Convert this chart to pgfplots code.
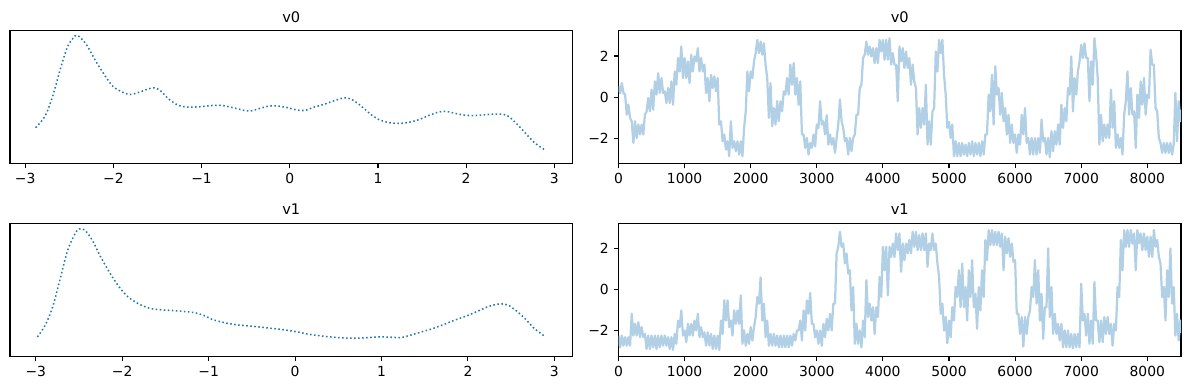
\documentclass[border=0pt]{standalone}
\usepackage{fontspec}
\setmainfont{DejaVu Sans}
\usepackage{pgfplots}
\pgfplotsset{compat=1.18}
\definecolor{c0}{HTML}{1F77B4}
\definecolor{c0a}{RGB}{177,207,229}
\pgfplotsset{
  base/.style={
    scale only axis, width=405pt, height=95.76pt, anchor=south west,
    axis line style={line width=0.8pt},
    tick style={line width=0.8pt, black},
    tick align=outside, major tick length=3.5pt,
    xtick pos=bottom, ytick pos=left,
    tick label style={font=\fontsize{10}{12}\selectfont},
    clip mode=individual,
  },
  kde/.style={c0, line width=1.1pt, dash pattern=on 1.1pt off 1.8pt, smooth},
  trc/.style={c0a, line width=1.6pt, line join=round},
  lx/.style={xtick={-3,-2,-1,0,1,2,3}, xticklabels={−3,−2,−1,0,1,2,3}, ytick=\empty},
  rx/.style={xmin=0, xmax=8510, xtick={0,1000,2000,3000,4000,5000,6000,7000,8000},
     xticklabels={0,1000,2000,3000,4000,5000,6000,7000,8000},
     ytick={-2,0,2}, yticklabels={−2,0,2}},
}
\newcommand{\ttl}[1]{\node[anchor=base, yshift=6pt, inner sep=0pt, font=\fontsize{10.5}{12}\selectfont] at (rel axis cs:0.5,1) {#1};}
\begin{document}
\begin{tikzpicture}
\path[use as bounding box] (0,0) rectangle (856.08pt,280.8pt);
% top-left KDE v0
\begin{axis}[base, lx, at={(7.2pt,163.08pt)}, xmin=-3.172, xmax=3.206, ymin=0, ymax=401]
\addplot[kde] coordinates {
(-2.881,108)(-2.774,143)(-2.688,203)(-2.603,283)(-2.518,353)(-2.432,385)(-2.390,383)(-2.304,358)(-2.198,308)(-2.091,263)
(-2.006,233)(-1.920,218)(-1.814,208)(-1.707,215)(-1.600,225)(-1.536,228)(-1.472,221)(-1.366,193)(-1.259,175)(-1.152,170)
(-1.024,171)(-0.875,175)(-0.768,175)(-0.640,168)(-0.533,161)(-0.448,158)(-0.341,166)(-0.235,173)(-0.128,173)(-0.021,168)
(0.085,161)(0.171,160)(0.277,170)(0.384,178)(0.512,190)(0.619,198)(0.704,193)(0.811,173)(0.918,148)(1.024,131)
(1.152,122)(1.259,121)(1.366,125)(1.472,133)(1.579,145)(1.686,155)(1.771,157)(1.878,151)(2.006,145)(2.134,145)
(2.262,148)(2.390,149)(2.475,143)(2.561,123)(2.667,93)(2.774,63)(2.893,41)};
\ttl{v0}
\end{axis}
% bottom-left KDE v1
\begin{axis}[base, lx, at={(7.2pt,24.26pt)}, xmin=-3.298, xmax=3.21, ymin=0, ymax=398]
\addplot[kde] coordinates {
(-2.980,58)(-2.891,93)(-2.804,148)(-2.717,233)(-2.630,318)(-2.543,368)(-2.499,381)(-2.434,378)(-2.347,348)(-2.260,303)
(-2.151,253)(-2.042,210)(-1.933,178)(-1.803,156)(-1.672,143)(-1.541,139)(-1.411,137)(-1.280,134)(-1.171,131)(-1.062,123)
(-0.954,110)(-0.823,101)(-0.671,94)(-0.496,90)(-0.322,85)(-0.148,80)(0.026,73)(0.157,66)(0.331,60)(0.505,56)
(0.679,54)(0.853,56)(0.984,58)(1.115,57)(1.223,56)(1.332,63)(1.463,73)(1.594,83)(1.746,98)(1.877,111)
(2.007,123)(2.138,138)(2.247,150)(2.377,157)(2.464,153)(2.551,138)(2.660,113)(2.769,83)(2.900,58)};
\ttl{v1}
\end{axis}
% top-right trace v0
\begin{axis}[base, rx, at={(445.32pt,163.08pt)}, ymin=-3.205, ymax=3.235]
\addplot[trc] coordinates {
(0,0.55)(25,0.20)(50,0.69)(75,0.21)(100,0.13)(125,-0.84)(150,-0.36)(175,-1.00)(200,-1.16)(225,-2.21)
(250,-1.16)(275,-1.97)(300,-1.32)(325,-1.80)(350,-1.32)(375,-1.80)(400,-0.84)(425,-0.68)(450,-0.03)(475,-0.68)
(500,0.37)(525,-0.60)(550,0.77)(575,0.13)(600,1.17)(625,0.21)(650,0.93)(675,0.21)(700,0.29)(725,-0.28)
(750,0.45)(775,-0.28)(800,0.77)(825,-0.36)(850,1.25)(875,0.61)(900,1.90)(925,1.25)(950,2.46)(975,0.93)
(1000,1.90)(1025,0.93)(1050,1.74)(1075,0.69)(1100,2.06)(1125,1.25)(1150,1.98)(1175,1.74)(1200,2.38)(1225,1.25)
(1250,1.90)(1275,1.25)(1300,1.58)(1325,0.21)(1350,0.93)(1375,-0.19)(1400,1.09)(1425,0.45)(1450,1.01)(1475,0.29)
(1500,0.93)(1525,-1.32)(1550,-1.16)(1575,-2.13)(1600,-1.80)(1625,-2.53)(1650,-2.13)(1675,-2.85)(1700,-1.16)(1725,-2.45)
(1750,-2.13)(1775,-2.61)(1800,-2.13)(1825,-2.77)(1850,-2.13)(1875,-2.85)(1900,-1.48)(1925,-0.68)(1950,1.25)(1975,0.29)
(2000,1.25)(2025,0.93)(2050,1.74)(2075,2.14)(2100,2.78)(2125,2.14)(2150,2.70)(2175,2.06)(2200,2.62)(2225,1.58)
(2250,0.93)(2275,-1.00)(2300,0.69)(2325,-1.40)(2350,-0.52)(2375,-1.32)(2400,-0.19)(2425,-1.16)(2450,-0.19)(2475,-0.68)
(2500,0.29)(2525,0.13)(2550,0.93)(2575,0.13)(2600,1.58)(2625,0.61)(2650,1.66)(2675,0.13)(2700,0.93)(2725,-0.36)
(2750,0.77)(2775,-1.80)(2800,-1.80)(2825,-2.45)(2850,-1.97)(2875,-2.77)(2900,-2.21)(2925,-2.45)(2950,-1.80)(2975,-2.37)
(3000,-1.32)(3025,-1.48)(3050,-0.19)(3075,-1.32)(3100,-1.16)(3125,-1.80)(3150,-0.87)(3175,-2.29)(3200,-1.80)(3225,-2.29)
(3250,-1.97)(3275,-2.69)(3300,-1.97)(3325,-1.32)(3350,-0.11)(3375,-1.16)(3400,-1.48)(3425,-2.13)(3450,-1.97)(3475,-2.77)
(3500,-1.97)(3525,-2.61)(3550,-1.97)(3575,-1.80)(3600,-0.84)(3625,-0.84)(3650,0.45)(3675,0.61)(3700,1.90)(3725,2.06)
(3750,2.70)(3775,2.06)(3800,2.46)(3825,1.98)(3850,2.38)(3875,1.66)(3900,2.38)(3925,1.66)(3950,2.78)(3975,2.22)
(4000,2.78)(4025,1.82)(4050,2.78)(4075,1.82)(4100,2.86)(4125,1.58)(4150,2.14)(4175,1.58)(4200,1.58)(4225,-0.19)
(4250,2.46)(4275,1.74)(4300,2.38)(4325,1.42)(4350,2.22)(4375,1.42)(4400,1.90)(4425,0.61)(4450,1.58)(4475,0.77)
(4500,0.45)(4525,-1.80)(4550,-0.52)(4575,-1.48)(4600,-0.52)(4625,-1.32)(4650,0.61)(4675,-2.29)(4700,-1.16)(4725,-2.29)
(4750,-0.68)(4775,-0.52)(4800,2.22)(4825,1.25)(4850,2.78)(4875,2.14)(4900,2.78)(4925,1.09)(4950,0.13)(4975,-1.48)
(5000,-1.19)(5025,-1.97)(5050,-1.32)(5075,-2.85)(5100,-2.13)(5125,-2.85)(5150,-2.21)(5175,-2.85)(5200,-2.21)(5225,-2.77)
(5250,-2.29)(5275,-2.85)(5300,-2.21)(5325,-2.77)(5350,-2.13)(5375,-2.85)(5400,-2.21)(5425,-2.77)(5450,-2.21)(5475,-2.85)
(5500,-2.13)(5525,-2.77)(5550,-1.80)(5575,-1.80)(5600,0.13)(5625,-0.68)(5650,1.09)(5675,-1.32)(5700,1.50)(5725,0.13)
(5750,0.45)(5775,-0.84)(5800,0.21)(5825,-1.16)(5850,-0.52)(5875,-1.80)(5900,-0.84)(5925,-2.21)(5950,-1.32)(5975,-2.21)
(6000,-1.80)(6025,-2.69)(6050,-1.80)(6075,-2.29)(6100,-0.84)(6125,-1.80)(6150,-0.52)(6175,-2.21)(6200,-1.97)(6225,-2.77)
(6250,-1.97)(6275,-2.77)(6300,-1.97)(6325,-2.77)(6350,-1.97)(6375,-2.69)(6400,-1.08)(6425,-2.13)(6450,-1.97)(6475,-2.77)
(6500,-1.97)(6525,-2.90)(6550,-1.64)(6575,-2.61)(6600,-1.64)(6625,-2.29)(6650,-1.32)(6675,-2.29)(6700,-0.36)(6725,-1.48)
(6750,-0.52)(6775,-1.16)(6800,0.45)(6825,0.13)(6850,1.98)(6875,-0.68)(6900,0.93)(6925,0.13)(6950,1.25)(6975,1.74)
(7000,2.54)(7025,1.90)(7050,2.62)(7075,1.90)(7100,1.90)(7125,-0.19)(7150,1.74)(7175,0.61)(7200,2.86)(7225,2.06)
(7250,0.93)(7275,-2.29)(7300,-0.84)(7325,-2.13)(7350,-1.32)(7375,-1.97)(7400,-1.32)(7425,-1.97)(7450,0.37)(7475,-1.48)
(7500,-0.19)(7525,-2.45)(7550,-1.80)(7575,-2.45)(7600,-1.97)(7625,-2.77)(7650,-0.84)(7675,-0.19)(7700,1.25)(7725,-0.84)
(7750,0.45)(7775,-0.84)(7800,-0.68)(7825,-2.45)(7850,0.13)(7875,-1.00)(7900,0.77)(7925,-0.36)(7950,0.93)(7975,-0.84)
(8000,0.13)(8025,-0.03)(8050,2.30)(8075,1.58)(8100,1.58)(8125,-0.52)(8150,-0.68)(8175,-1.97)(8200,-2.21)(8225,-2.69)
(8250,-2.21)(8275,-2.69)(8300,-2.21)(8325,-2.69)(8350,-2.21)(8375,-2.77)(8400,-2.29)(8425,0.21)(8450,-2.13)(8475,-0.19)
(8500,-1.16)(8510,-0.60)};
\ttl{v0}
\end{axis}
% bottom-right trace v1
\begin{axis}[base, rx, at={(445.32pt,24.26pt)}, ymin=-3.236, ymax=3.22]
\addplot[trc] coordinates {
(0,-2.23)(25,-2.80)(50,-2.23)(75,-2.72)(100,-2.31)(125,-2.72)(150,-2.31)(175,-2.72)(200,-1.17)(225,-2.23)
(250,-1.66)(275,-2.23)(300,-1.58)(325,-2.31)(350,-1.82)(375,-2.31)(400,-2.15)(425,-2.88)(450,-2.23)(475,-2.88)
(500,-2.23)(525,-2.80)(550,-2.23)(575,-2.88)(600,-2.23)(625,-2.80)(650,-2.23)(675,-2.72)(700,-2.23)(725,-2.72)
(750,-2.31)(775,-2.88)(800,-2.31)(825,-2.93)(850,-2.15)(875,-2.63)(900,-1.50)(925,-1.82)(950,-1.01)(975,-2.23)
(1000,-1.98)(1025,-2.55)(1050,-1.66)(1075,-2.23)(1100,-1.66)(1125,-2.23)(1150,-1.50)(1175,-1.98)(1200,-1.17)(1225,-2.31)
(1250,-1.82)(1275,-2.31)(1300,-2.07)(1325,-2.72)(1350,-2.07)(1375,-2.72)(1400,-2.15)(1425,-2.88)(1450,-2.23)(1475,-2.88)
(1500,-2.23)(1525,-2.93)(1550,-1.50)(1575,-2.15)(1600,-0.52)(1625,-1.50)(1650,-0.52)(1675,-1.82)(1700,-1.50)(1725,-2.23)
(1750,-1.01)(1775,-1.66)(1800,-1.01)(1825,-1.66)(1850,-0.28)(1875,-2.63)(1900,-1.98)(1925,-2.72)(1950,-2.15)(1975,-2.63)
(2000,-1.82)(2025,-2.47)(2050,-1.82)(2075,-1.33)(2100,-0.36)(2125,-0.68)(2150,0.59)(2175,-1.50)(2200,-0.68)(2225,-2.31)
(2250,-1.50)(2275,-2.72)(2300,-2.15)(2325,-2.72)(2350,-2.15)(2375,-2.72)(2400,-2.23)(2425,-2.80)(2450,-2.23)(2475,-2.80)
(2500,-2.23)(2525,-2.80)(2550,-2.23)(2575,-2.80)(2600,-2.23)(2625,-2.72)(2650,-2.15)(2675,-2.47)(2700,-1.98)(2725,-1.98)
(2750,-1.50)(2775,-2.47)(2800,-1.01)(2825,-1.98)(2850,-0.52)(2875,-1.17)(2900,-0.16)(2925,-1.66)(2950,-1.66)(2975,-2.31)
(3000,-1.98)(3025,-2.63)(3050,-1.98)(3075,-2.72)(3100,-1.66)(3125,-2.31)(3150,-1.41)(3175,-1.98)(3200,-1.17)(3225,-1.98)
(3250,-0.68)(3275,-0.68)(3300,1.76)(3325,2.08)(3350,2.81)(3375,2.08)(3400,2.24)(3425,1.27)(3450,1.76)(3475,0.78)
(3500,0.94)(3525,-1.01)(3550,0.13)(3575,-2.63)(3600,-1.66)(3625,-2.63)(3650,-1.98)(3675,-2.80)(3700,-1.50)(3725,-2.31)
(3750,0.46)(3775,-1.33)(3800,-0.68)(3825,-1.50)(3850,-0.85)(3875,-2.15)(3900,-0.85)(3925,-1.33)(3950,0.62)(3975,-0.36)
(4000,2.08)(4025,0.94)(4050,2.08)(4075,-0.28)(4100,2.08)(4125,1.59)(4150,2.24)(4175,1.59)(4200,2.73)(4225,1.92)
(4250,2.73)(4275,0.86)(4300,2.24)(4325,1.43)(4350,2.24)(4375,1.76)(4400,2.41)(4425,1.76)(4450,2.81)(4475,2.08)
(4500,2.81)(4525,1.92)(4550,2.65)(4575,1.92)(4600,2.73)(4625,1.92)(4650,2.73)(4675,1.11)(4700,2.24)(4725,1.92)
(4750,2.73)(4775,1.92)(4800,2.24)(4825,1.27)(4850,0.62)(4875,-1.17)(4900,-0.68)(4925,-1.98)(4950,-1.33)(4975,-2.60)
(5000,-1.50)(5025,-2.31)(5050,-0.85)(5075,-1.50)(5100,0.13)(5125,-0.36)(5150,0.94)(5175,-0.85)(5200,1.27)(5225,-0.85)
(5250,0.13)(5275,-1.50)(5300,0.94)(5325,-0.36)(5350,1.43)(5375,-0.85)(5400,-0.20)(5425,-1.90)(5450,0.13)(5475,-1.01)
(5500,0.94)(5525,-0.36)(5550,2.41)(5575,1.43)(5600,2.89)(5625,2.16)(5650,2.89)(5675,2.16)(5700,2.81)(5725,2.16)
(5750,2.81)(5775,2.08)(5800,2.73)(5825,0.94)(5850,2.57)(5875,1.76)(5900,2.49)(5925,1.59)(5950,2.24)(5975,1.35)
(6000,1.43)(6025,-1.17)(6050,-1.17)(6075,-2.15)(6100,-1.33)(6125,-2.76)(6150,-1.33)(6175,-2.15)(6200,-1.33)(6225,-1.01)
(6250,0.13)(6275,-0.36)(6300,1.43)(6325,-0.68)(6350,0.94)(6375,-1.50)(6400,-0.20)(6425,-2.39)(6450,-0.85)(6475,-0.85)
(6500,2.00)(6525,-1.33)(6550,0.13)(6575,-2.15)(6600,-1.17)(6625,-2.15)(6650,-1.66)(6675,-2.47)(6700,-1.66)(6725,-2.80)
(6750,-1.98)(6775,-2.80)(6800,-1.98)(6825,-2.80)(6850,-2.15)(6875,-2.85)(6900,-2.15)(6925,-2.80)(6950,-2.15)(6975,-2.80)
(7000,0.29)(7025,-1.50)(7050,-1.17)(7075,-2.23)(7100,-1.17)(7125,-2.63)(7150,-1.50)(7175,-2.63)(7200,0.37)(7225,-1.50)
(7250,-1.50)(7275,-2.55)(7300,-1.50)(7325,-2.55)(7350,-1.33)(7375,-2.15)(7400,-1.33)(7425,-2.15)(7450,-1.66)(7475,-2.72)
(7500,-1.66)(7525,-1.98)(7550,0.13)(7575,-0.36)(7600,2.41)(7625,0.94)(7650,2.89)(7675,2.08)(7700,2.89)(7725,2.08)
(7750,2.89)(7775,2.24)(7800,2.73)(7825,0.94)(7850,2.89)(7875,2.24)(7900,2.73)(7925,1.92)(7950,2.73)(7975,1.92)
(8000,2.57)(8025,1.59)(8050,2.57)(8075,1.59)(8100,2.90)(8125,2.08)(8150,2.41)(8175,1.59)(8200,1.27)(8225,-0.36)
(8250,0.13)(8275,-1.50)(8300,0.94)(8325,-0.36)(8350,2.00)(8375,-0.68)(8400,0.13)(8425,-2.23)(8450,-1.17)(8475,-2.47)
(8500,-1.50)(8510,-2.10)};
\ttl{v1}
\end{axis}
\end{tikzpicture}
\end{document}
